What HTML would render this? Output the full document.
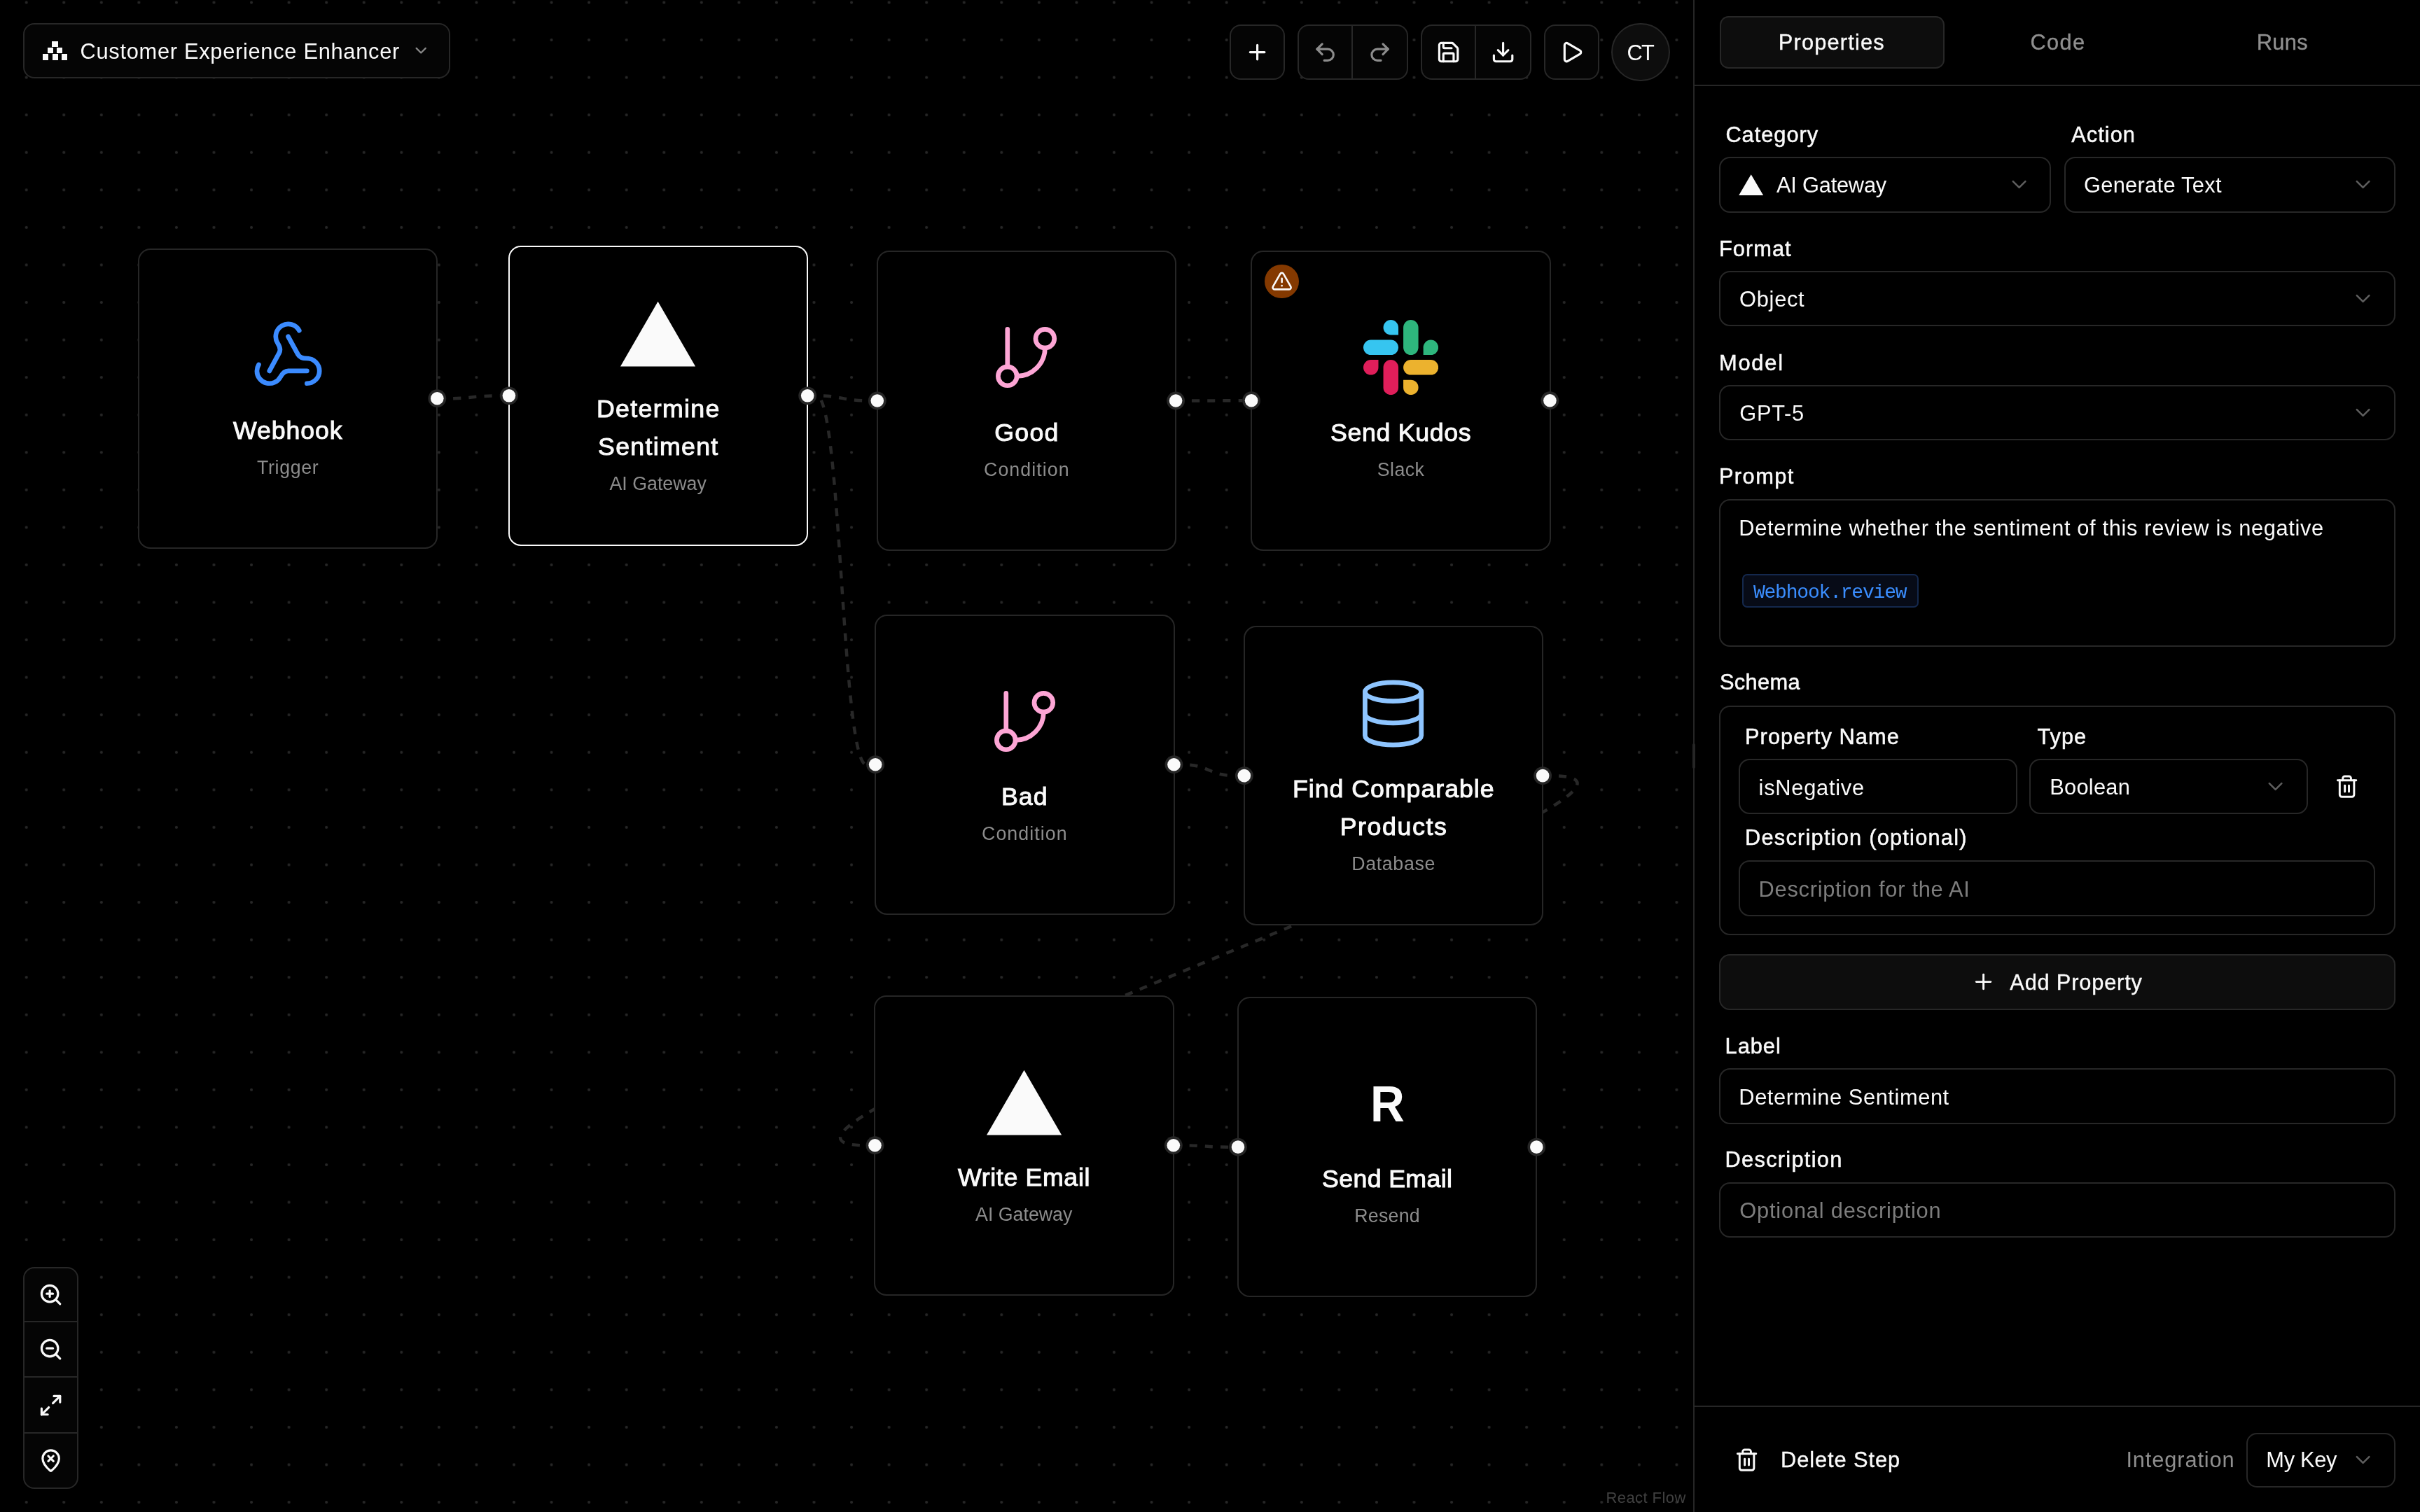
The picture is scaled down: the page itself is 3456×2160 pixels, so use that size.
<!DOCTYPE html>
<html lang="en"><head><meta charset="utf-8"><title>Customer Experience Enhancer</title><style>
html,body{margin:0;padding:0;background:#000;}
body{width:3456px;height:2160px;position:relative;overflow:hidden;font-family:'Liberation Sans', sans-serif;}
.node{position:absolute;box-sizing:border-box;width:428.51px;height:428.51px;border:2.23px solid #262626;border-radius:17.85px;background:#000;display:flex;flex-direction:column;align-items:center;justify-content:center;gap:26.78px;}
.nic{display:block;flex:none;position:relative;top:0.6px}
.tl{position:absolute;left:0;top:0;width:3456px;height:2160px;will-change:transform}
.ntx{display:flex;flex-direction:column;align-items:center;gap:8.93px;position:relative;top:2px;will-change:transform}
.nt{font-weight:normal;-webkit-text-stroke:1.0px #fafafa;font-size:35.71px;line-height:53.56px;color:#fafafa;white-space:nowrap;text-align:center}
.ns{font-size:26.78px;line-height:35.71px;color:#8c8c8c;white-space:nowrap;text-align:center}
.hd{position:absolute;box-sizing:border-box;width:26px;height:26px;border-radius:50%;background:#fafafa;border:3.8px solid #262626}
</style></head><body>
<div id="canvas" style="position:absolute;left:0;top:0;width:2418px;height:2160px;overflow:hidden;background-color:#000;background-image:radial-gradient(circle,#262626 0,#262626 1.5px,rgba(38,38,38,0) 2.5px);background-size:53.565px 53.565px;background-position:10.92px -23.28px;">
<svg style="position:absolute;left:0;top:0" width="2418" height="2160" fill="none" stroke="#282828" stroke-width="4.46" stroke-dasharray="11.16 11.16" stroke-dashoffset="12.5"><path d="M637.2,569.3 C675.6,569.3 675.6,565.3 714.0,565.3"/><path d="M1166.1,565.3 C1203.0,565.3 1203.0,572.5 1239.9,572.5"/><path d="M1166.1,565.3 C1201.7,565.3 1201.7,1092.3 1237.2,1092.3"/><path d="M1692.0,572.5 C1733.1,572.5 1733.1,572.3 1774.2,572.3"/><path d="M1689.4,1092.3 C1726.6,1092.3 1726.6,1108.2 1763.9,1108.2"/><path d="M2216.0,1108.2 C2508.2,1108.2 944.4,1636.3 1236.6,1636.3"/><path d="M1688.7,1636.3 C1721.9,1636.3 1721.9,1638.7 1755.1,1638.7"/></svg>
<div class="node" style="left:196.90px;top:355.00px;border-color:#262626"><svg class="nic" width="107.13" height="107.13" viewBox="0 0 24 24" fill="none" stroke="#3b8bff" stroke-width="1.5" stroke-linecap="round" stroke-linejoin="round"><path d="M18 16.98h-5.99c-1.1 0-1.95.94-2.48 1.9A4 4 0 0 1 2 17c.01-.7.2-1.4.57-2"/><path d="m6 17 3.13-5.78c.53-.97.1-2.18-.5-3.1a4 4 0 1 1 6.89-4.06"/><path d="m12 6 3.13 5.73C15.66 12.7 16.9 13 18 13a4 4 0 0 1 0 8"/></svg><div class="ntx"><div class="nt"><span class="ntl" style="letter-spacing:0.904px;margin-right:-0.904px">Webhook</span></div><div class="ns"><span class="nsl" style="letter-spacing:0.621px;margin-right:-0.621px">Trigger</span></div></div></div>
<div class="node" style="left:725.80px;top:351.05px;border-color:#fafafa"><svg class="nic" width="107.13" height="107.13" viewBox="0 0 76 76"><path d="M38 5.5 L76 71.3 L0 71.3 Z" fill="#fafafa"/></svg><div class="ntx"><div class="nt"><span class="ntl" style="letter-spacing:1.329px;margin-right:-1.329px">Determine</span><br><span class="ntl" style="letter-spacing:1.304px;margin-right:-1.304px">Sentiment</span></div><div class="ns"><span class="nsl" style="letter-spacing:0.015px;margin-right:-0.015px">AI Gateway</span></div></div></div>
<div class="node" style="left:1251.70px;top:358.25px;border-color:#262626"><svg class="nic" width="107.13" height="107.13" viewBox="0 0 24 24" fill="none" stroke="#fda5d5" stroke-width="1.5" stroke-linecap="round" stroke-linejoin="round"><line x1="6" x2="6" y1="3" y2="15"/><circle cx="18" cy="6" r="3"/><circle cx="6" cy="18" r="3"/><path d="M18 9a9 9 0 0 1-9 9"/></svg><div class="ntx"><div class="nt"><span class="ntl" style="letter-spacing:1.282px;margin-right:-1.282px">Good</span></div><div class="ns"><span class="nsl" style="letter-spacing:1.062px;margin-right:-1.062px">Condition</span></div></div></div>
<div class="node" style="left:1786.00px;top:358.00px;border-color:#262626"><svg class="nic" width="107.13" height="107.13" viewBox="0 0 107.70 107.70"><path d="M28.70,10.80 A10.80,10.80 0 0 1 39.50,0.00 A10.80,10.80 0 0 1 50.30,10.80 L50.30,21.60 L39.50,21.60 A10.80,10.80 0 0 1 28.70,10.80 Z" fill="#36C5F0" transform="rotate(0 39.50 10.80)"/><rect x="0.00" y="28.70" width="50.30" height="21.60" rx="10.80" fill="#36C5F0"/><rect x="57.40" y="0.00" width="21.60" height="50.30" rx="10.80" fill="#2EB67D"/><path d="M86.10,39.50 A10.80,10.80 0 0 1 96.90,28.70 A10.80,10.80 0 0 1 107.70,39.50 L107.70,50.30 L96.90,50.30 A10.80,10.80 0 0 1 86.10,39.50 Z" fill="#2EB67D" transform="rotate(90 96.90 39.50)"/><path d="M0.00,68.20 A10.80,10.80 0 0 1 10.80,57.40 A10.80,10.80 0 0 1 21.60,68.20 L21.60,79.00 L10.80,79.00 A10.80,10.80 0 0 1 0.00,68.20 Z" fill="#E01E5A" transform="rotate(270 10.80 68.20)"/><rect x="28.70" y="57.40" width="21.60" height="50.30" rx="10.80" fill="#E01E5A"/><rect x="57.40" y="57.40" width="50.30" height="21.60" rx="10.80" fill="#ECB22E"/><path d="M57.40,96.90 A10.80,10.80 0 0 1 68.20,86.10 A10.80,10.80 0 0 1 79.00,96.90 L79.00,107.70 L68.20,107.70 A10.80,10.80 0 0 1 57.40,96.90 Z" fill="#ECB22E" transform="rotate(180 68.20 96.90)"/></svg><div class="ntx"><div class="nt"><span class="ntl" style="letter-spacing:0.677px;margin-right:-0.677px">Send Kudos</span></div><div class="ns"><span class="nsl" style="letter-spacing:0.383px;margin-right:-0.383px">Slack</span></div></div></div>
<div class="node" style="left:1249.05px;top:878.00px;border-color:#262626"><svg class="nic" width="107.13" height="107.13" viewBox="0 0 24 24" fill="none" stroke="#fda5d5" stroke-width="1.5" stroke-linecap="round" stroke-linejoin="round"><line x1="6" x2="6" y1="3" y2="15"/><circle cx="18" cy="6" r="3"/><circle cx="6" cy="18" r="3"/><path d="M18 9a9 9 0 0 1-9 9"/></svg><div class="ntx"><div class="nt"><span class="ntl" style="letter-spacing:1.075px;margin-right:-1.075px">Bad</span></div><div class="ns"><span class="nsl" style="letter-spacing:1.062px;margin-right:-1.062px">Condition</span></div></div></div>
<div class="node" style="left:1775.70px;top:893.90px;border-color:#262626"><svg class="nic" width="107.13" height="107.13" viewBox="0 0 24 24" fill="none" stroke="#8ec5ff" stroke-width="1.5" stroke-linecap="round" stroke-linejoin="round"><ellipse cx="12" cy="5" rx="9" ry="3"/><path d="M3 5V19A9 3 0 0 0 21 19V5"/><path d="M3 12A9 3 0 0 0 21 12"/></svg><div class="ntx"><div class="nt"><span class="ntl" style="letter-spacing:0.979px;margin-right:-0.979px">Find Comparable</span><br><span class="ntl" style="letter-spacing:1.616px;margin-right:-1.616px">Products</span></div><div class="ns"><span class="nsl" style="letter-spacing:0.658px;margin-right:-0.658px">Database</span></div></div></div>
<div class="node" style="left:1248.40px;top:1422.00px;border-color:#262626"><svg class="nic" width="107.13" height="107.13" viewBox="0 0 76 76"><path d="M38 5.5 L76 71.3 L0 71.3 Z" fill="#fafafa"/></svg><div class="ntx"><div class="nt"><span class="ntl" style="letter-spacing:0.656px;margin-right:-0.656px">Write Email</span></div><div class="ns"><span class="nsl" style="letter-spacing:-0.007px;margin-right:0.007px">AI Gateway</span></div></div></div>
<div class="node" style="left:1766.90px;top:1424.40px;border-color:#262626"><div class="nic" style="width:107.13px;height:107.13px;position:relative"><span id="rs" style="position:absolute;left:0;right:0;text-align:center;top:17.6px;font:bold 72.8px/1 'Liberation Sans', sans-serif;color:#fafafa;transform:scaleX(0.93)">R</span></div><div class="ntx"><div class="nt"><span class="ntl" style="letter-spacing:0.370px;margin-right:-0.370px">Send Email</span></div><div class="ns"><span class="nsl" style="letter-spacing:0.246px;margin-right:-0.246px">Resend</span></div></div></div>
<div style="position:absolute;left:1806.4px;top:378.0px;width:48.4px;height:48.4px;border-radius:50%;background:#843900"></div>
<svg style="position:absolute;left:1814.68px;top:386.38px;" width="31.25" height="31.25" viewBox="0 0 24 24" fill="none" stroke="#fafafa" stroke-width="2" stroke-linecap="round" stroke-linejoin="round"><path d="m21.73 18-8-14a2 2 0 0 0-3.48 0l-8 14A2 2 0 0 0 4 21h16a2 2 0 0 0 1.73-3"/><path d="M12 9v4"/><path d="M12 17h.01"/></svg>
<svg style="position:absolute;left:0;top:0" width="2418" height="2160"><circle cx="624.31" cy="569.25" r="12.9" fill="#262626"/><circle cx="624.31" cy="569.25" r="9.3" fill="#fafafa"/><circle cx="726.90" cy="565.30" r="12.9" fill="#262626"/><circle cx="726.90" cy="565.30" r="9.3" fill="#fafafa"/><circle cx="1153.21" cy="565.30" r="12.9" fill="#262626"/><circle cx="1153.21" cy="565.30" r="9.3" fill="#fafafa"/><circle cx="1252.80" cy="572.50" r="12.9" fill="#262626"/><circle cx="1252.80" cy="572.50" r="9.3" fill="#fafafa"/><circle cx="1679.11" cy="572.50" r="12.9" fill="#262626"/><circle cx="1679.11" cy="572.50" r="9.3" fill="#fafafa"/><circle cx="1787.10" cy="572.25" r="12.9" fill="#262626"/><circle cx="1787.10" cy="572.25" r="9.3" fill="#fafafa"/><circle cx="2213.41" cy="572.25" r="12.9" fill="#262626"/><circle cx="2213.41" cy="572.25" r="9.3" fill="#fafafa"/><circle cx="1250.15" cy="1092.25" r="12.9" fill="#262626"/><circle cx="1250.15" cy="1092.25" r="9.3" fill="#fafafa"/><circle cx="1676.46" cy="1092.25" r="12.9" fill="#262626"/><circle cx="1676.46" cy="1092.25" r="9.3" fill="#fafafa"/><circle cx="1776.80" cy="1108.15" r="12.9" fill="#262626"/><circle cx="1776.80" cy="1108.15" r="9.3" fill="#fafafa"/><circle cx="2203.11" cy="1108.15" r="12.9" fill="#262626"/><circle cx="2203.11" cy="1108.15" r="9.3" fill="#fafafa"/><circle cx="1249.50" cy="1636.25" r="12.9" fill="#262626"/><circle cx="1249.50" cy="1636.25" r="9.3" fill="#fafafa"/><circle cx="1675.81" cy="1636.25" r="12.9" fill="#262626"/><circle cx="1675.81" cy="1636.25" r="9.3" fill="#fafafa"/><circle cx="1768.00" cy="1638.65" r="12.9" fill="#262626"/><circle cx="1768.00" cy="1638.65" r="9.3" fill="#fafafa"/><circle cx="2194.31" cy="1638.65" r="12.9" fill="#262626"/><circle cx="2194.31" cy="1638.65" r="9.3" fill="#fafafa"/></svg>
<div style="position:absolute;left:32.90px;top:32.90px;width:610.20px;height:79.10px;box-sizing:border-box;border:2px solid #272727;border-radius:16px;background:#050505;"></div>
<div style="position:absolute;left:74.4px;top:58.9px;width:8.3px;height:8.3px;background:#fafafa"></div>
<div style="position:absolute;left:67.8px;top:68.0px;width:8.3px;height:8.3px;background:#fafafa"></div>
<div style="position:absolute;left:81.2px;top:68.0px;width:8.3px;height:8.3px;background:#fafafa"></div>
<div style="position:absolute;left:61.1px;top:77.4px;width:8.3px;height:8.3px;background:#fafafa"></div>
<div style="position:absolute;left:74.7px;top:77.4px;width:8.3px;height:8.3px;background:#fafafa"></div>
<div style="position:absolute;left:88.1px;top:77.4px;width:8.3px;height:8.3px;background:#fafafa"></div>
<svg style="position:absolute;left:587.80px;top:58.70px;" width="26.40" height="26.40" viewBox="0 0 24 24" fill="none" stroke="#8a8a8a" stroke-width="2" stroke-linecap="round" stroke-linejoin="round"><path d="m6 9 6 6 6-6"/></svg>
<div style="position:absolute;left:1755.90px;top:34.90px;width:79.10px;height:79.10px;box-sizing:border-box;border:2px solid #272727;border-radius:16px;background:#050505;"></div>
<svg style="position:absolute;left:1778.00px;top:57.10px;" width="35.20" height="35.20" viewBox="0 0 24 24" fill="none" stroke="#fafafa" stroke-width="2.15" stroke-linecap="round" stroke-linejoin="round"><path d="M5 12h14"/><path d="M12 5v14"/></svg>
<div style="position:absolute;left:1852.60px;top:34.90px;width:158.40px;height:79.10px;box-sizing:border-box;border:2px solid #272727;border-radius:16px;background:#050505;"></div>
<div style="position:absolute;left:1929.7px;top:36.9px;width:2.1px;height:75.1px;background:#272727"></div>
<svg style="position:absolute;left:1874.90px;top:57.10px;" width="35.20" height="35.20" viewBox="0 0 24 24" fill="none" stroke="#8c8c8c" stroke-width="2.15" stroke-linecap="round" stroke-linejoin="round"><path d="M9 14 4 9l5-5"/><path d="M4 9h10.5a5.5 5.5 0 0 1 5.5 5.5a5.5 5.5 0 0 1-5.5 5.5H11"/></svg>
<svg style="position:absolute;left:1953.20px;top:57.10px;" width="35.20" height="35.20" viewBox="0 0 24 24" fill="none" stroke="#8c8c8c" stroke-width="2.15" stroke-linecap="round" stroke-linejoin="round"><path d="m15 14 5-5-5-5"/><path d="M20 9H9.5A5.5 5.5 0 0 0 4 14.5A5.5 5.5 0 0 0 9.5 20H13"/></svg>
<div style="position:absolute;left:2028.60px;top:34.90px;width:158.40px;height:79.10px;box-sizing:border-box;border:2px solid #272727;border-radius:16px;background:#050505;"></div>
<div style="position:absolute;left:2105.7px;top:36.9px;width:2.1px;height:75.1px;background:#272727"></div>
<svg style="position:absolute;left:2051.00px;top:57.10px;" width="35.20" height="35.20" viewBox="0 0 24 24" fill="none" stroke="#fafafa" stroke-width="2.15" stroke-linecap="round" stroke-linejoin="round"><path d="M15.2 3a2 2 0 0 1 1.4.6l3.8 3.8a2 2 0 0 1 .6 1.4V19a2 2 0 0 1-2 2H5a2 2 0 0 1-2-2V5a2 2 0 0 1 2-2z"/><path d="M17 21v-7a1 1 0 0 0-1-1H8a1 1 0 0 0-1 1v7"/><path d="M7 3v4a1 1 0 0 0 1 1h7"/></svg>
<svg style="position:absolute;left:2129.00px;top:57.10px;" width="35.20" height="35.20" viewBox="0 0 24 24" fill="none" stroke="#fafafa" stroke-width="2.15" stroke-linecap="round" stroke-linejoin="round"><path d="M12 15V3"/><path d="M21 15v4a2 2 0 0 1-2 2H5a2 2 0 0 1-2-2v-4"/><path d="m7 10 5 5 5-5"/></svg>
<div style="position:absolute;left:2204.60px;top:34.90px;width:79.20px;height:79.10px;box-sizing:border-box;border:2px solid #272727;border-radius:16px;background:#050505;"></div>
<svg style="position:absolute;left:2226.60px;top:57.10px;" width="35.20" height="35.20" viewBox="0 0 24 24" fill="none" stroke="#fafafa" stroke-width="2.15" stroke-linecap="round" stroke-linejoin="round"><path d="M5 5a2 2 0 0 1 3.008-1.728l11.997 6.998a2 2 0 0 1 .003 3.458l-12 7A2 2 0 0 1 5 19z"/></svg>
<div style="position:absolute;left:2301.30px;top:33.00px;width:83.40px;height:83.40px;box-sizing:border-box;border:2px solid #272727;border-radius:42px;background:#0d0d0d;"></div>
<div style="position:absolute;left:32.90px;top:1809.80px;width:79.20px;height:317.20px;box-sizing:border-box;border:2px solid #272727;border-radius:16px;background:#050505;"></div>
<div style="position:absolute;left:34.9px;top:1887px;width:75.2px;height:2px;background:#272727"></div>
<div style="position:absolute;left:34.9px;top:1966.3px;width:75.2px;height:2px;background:#272727"></div>
<div style="position:absolute;left:34.9px;top:2045.5px;width:75.2px;height:2px;background:#272727"></div>
<svg style="position:absolute;left:55.00px;top:1832.00px;" width="35.20" height="35.20" viewBox="0 0 24 24" fill="none" stroke="#fafafa" stroke-width="2.15" stroke-linecap="round" stroke-linejoin="round"><circle cx="11" cy="11" r="8"/><line x1="21" x2="16.65" y1="21" y2="16.65"/><line x1="11" x2="11" y1="8" y2="14"/><line x1="8" x2="14" y1="11" y2="11"/></svg>
<svg style="position:absolute;left:55.00px;top:1909.90px;" width="35.20" height="35.20" viewBox="0 0 24 24" fill="none" stroke="#fafafa" stroke-width="2.15" stroke-linecap="round" stroke-linejoin="round"><circle cx="11" cy="11" r="8"/><line x1="21" x2="16.65" y1="21" y2="16.65"/><line x1="8" x2="14" y1="11" y2="11"/></svg>
<svg style="position:absolute;left:55.00px;top:1989.80px;" width="35.20" height="35.20" viewBox="0 0 24 24" fill="none" stroke="#fafafa" stroke-width="2.15" stroke-linecap="round" stroke-linejoin="round"><path d="M15 3h6v6"/><path d="m21 3-7 7"/><path d="m3 21 7-7"/><path d="M9 21H3v-6"/></svg>
<svg style="position:absolute;left:55.00px;top:2068.90px;" width="35.20" height="35.20" viewBox="0 0 24 24" fill="none" stroke="#fafafa" stroke-width="2.15" stroke-linecap="round" stroke-linejoin="round"><path d="M20 10c0 4.993-5.539 10.193-7.399 11.799a1 1 0 0 1-1.202 0C9.539 20.193 4 14.993 4 10a8 8 0 0 1 16 0"/><path d="m14.5 7.5-5 5"/><path d="m9.5 7.5 5 5"/></svg>
</div>
<div style="position:absolute;left:2418px;top:0;width:1038px;height:2160px;background:#000;border-left:2px solid #262626;box-sizing:border-box"></div>
<div style="position:absolute;left:2420px;top:121.2px;width:1036px;height:2px;background:#262626"></div>
<div style="position:absolute;left:2420px;top:2007.6px;width:1036px;height:2px;background:#262626"></div>
<div style="position:absolute;left:2416.9px;top:1062.4px;width:4.2px;height:35.2px;border-radius:2px;background:#262626"></div>
<div style="position:absolute;left:2455.50px;top:23.10px;width:321.40px;height:74.80px;box-sizing:border-box;border:2px solid #272727;border-radius:12.5px;background:#0d0d0d;"></div>
<div style="position:absolute;left:2455.20px;top:223.90px;width:473.60px;height:80.10px;box-sizing:border-box;border:2px solid #272727;border-radius:15.5px;background:transparent;"></div>
<svg style="position:absolute;left:2483px;top:248.6px" width="35.4" height="30.6" viewBox="0 0 76 65"><path d="M38 0 L76 65 L0 65 Z" fill="#fafafa"/></svg>
<svg style="position:absolute;left:2866.10px;top:246.30px;" width="35.20" height="35.20" viewBox="0 0 24 24" fill="none" stroke="#5e5e5e" stroke-width="1.7" stroke-linecap="round" stroke-linejoin="round"><path d="m6 9 6 6 6-6"/></svg>
<div style="position:absolute;left:2947.60px;top:223.90px;width:473.30px;height:80.10px;box-sizing:border-box;border:2px solid #272727;border-radius:15.5px;background:transparent;"></div>
<svg style="position:absolute;left:3357.10px;top:246.10px;" width="35.20" height="35.20" viewBox="0 0 24 24" fill="none" stroke="#5e5e5e" stroke-width="1.7" stroke-linecap="round" stroke-linejoin="round"><path d="m6 9 6 6 6-6"/></svg>
<div style="position:absolute;left:2455.20px;top:387.00px;width:965.70px;height:79.20px;box-sizing:border-box;border:2px solid #272727;border-radius:15.5px;background:transparent;"></div>
<svg style="position:absolute;left:3357.00px;top:409.10px;" width="35.20" height="35.20" viewBox="0 0 24 24" fill="none" stroke="#5e5e5e" stroke-width="1.7" stroke-linecap="round" stroke-linejoin="round"><path d="m6 9 6 6 6-6"/></svg>
<div style="position:absolute;left:2455.20px;top:550.00px;width:965.70px;height:79.20px;box-sizing:border-box;border:2px solid #272727;border-radius:15.5px;background:transparent;"></div>
<svg style="position:absolute;left:3357.00px;top:572.00px;" width="35.20" height="35.20" viewBox="0 0 24 24" fill="none" stroke="#5e5e5e" stroke-width="1.7" stroke-linecap="round" stroke-linejoin="round"><path d="m6 9 6 6 6-6"/></svg>
<div style="position:absolute;left:2455.20px;top:713.40px;width:965.70px;height:210.60px;box-sizing:border-box;border:2px solid #272727;border-radius:15.5px;background:transparent;"></div>
<div style="position:absolute;left:2488.30px;top:820.00px;width:251.70px;height:47.70px;box-sizing:border-box;border:2px solid #14284d;border-radius:7px;background:#070b17;"></div>
<div style="position:absolute;left:2455.20px;top:1007.60px;width:965.70px;height:328.60px;box-sizing:border-box;border:2px solid #272727;border-radius:15.5px;background:transparent;"></div>
<div style="position:absolute;left:2483.00px;top:1083.90px;width:397.60px;height:79.20px;box-sizing:border-box;border:2px solid #272727;border-radius:15.5px;background:transparent;"></div>
<div style="position:absolute;left:2898.30px;top:1083.90px;width:397.40px;height:79.20px;box-sizing:border-box;border:2px solid #272727;border-radius:15.5px;background:transparent;"></div>
<svg style="position:absolute;left:3231.50px;top:1106.10px;" width="35.20" height="35.20" viewBox="0 0 24 24" fill="none" stroke="#5e5e5e" stroke-width="1.7" stroke-linecap="round" stroke-linejoin="round"><path d="m6 9 6 6 6-6"/></svg>
<svg style="position:absolute;left:3334.40px;top:1105.80px;" width="35.20" height="35.20" viewBox="0 0 24 24" fill="none" stroke="#fafafa" stroke-width="2" stroke-linecap="round" stroke-linejoin="round"><path d="M10 11v6"/><path d="M14 11v6"/><path d="M19 6v14a2 2 0 0 1-2 2H7a2 2 0 0 1-2-2V6"/><path d="M3 6h18"/><path d="M8 6V4a2 2 0 0 1 2-2h4a2 2 0 0 1 2 2v2"/></svg>
<div style="position:absolute;left:2483.00px;top:1228.60px;width:908.60px;height:80.40px;box-sizing:border-box;border:2px solid #272727;border-radius:15.5px;background:transparent;"></div>
<div style="position:absolute;left:2455.20px;top:1363.00px;width:965.70px;height:80.00px;box-sizing:border-box;border:2px solid #272727;border-radius:15.5px;background:#0d0d0d;"></div>
<svg style="position:absolute;left:2815.20px;top:1385.10px;" width="35.20" height="35.20" viewBox="0 0 24 24" fill="none" stroke="#fafafa" stroke-width="2" stroke-linecap="round" stroke-linejoin="round"><path d="M5 12h14"/><path d="M12 5v14"/></svg>
<div style="position:absolute;left:2455.20px;top:1526.40px;width:965.70px;height:79.20px;box-sizing:border-box;border:2px solid #272727;border-radius:15.5px;background:transparent;"></div>
<div style="position:absolute;left:2455.20px;top:1689.20px;width:965.70px;height:79.20px;box-sizing:border-box;border:2px solid #272727;border-radius:15.5px;background:transparent;"></div>
<svg style="position:absolute;left:2476.90px;top:2068.20px;" width="35.20" height="35.20" viewBox="0 0 24 24" fill="none" stroke="#fafafa" stroke-width="2" stroke-linecap="round" stroke-linejoin="round"><path d="M10 11v6"/><path d="M14 11v6"/><path d="M19 6v14a2 2 0 0 1-2 2H7a2 2 0 0 1-2-2V6"/><path d="M3 6h18"/><path d="M8 6V4a2 2 0 0 1 2-2h4a2 2 0 0 1 2 2v2"/></svg>
<div style="position:absolute;left:3208.40px;top:2046.50px;width:212.20px;height:78.00px;box-sizing:border-box;border:2px solid #272727;border-radius:15px;background:transparent;"></div>
<svg style="position:absolute;left:3356.80px;top:2068.20px;" width="35.20" height="35.20" viewBox="0 0 24 24" fill="none" stroke="#5e5e5e" stroke-width="1.7" stroke-linecap="round" stroke-linejoin="round"><path d="m6 9 6 6 6-6"/></svg>
<div class="tl">
<div style="position:absolute;white-space:pre;left:114.50px;top:56.02px;font-family:'Liberation Sans', sans-serif;font-size:30.8px;line-height:1.2;font-weight:normal;color:#fafafa;letter-spacing:0.713px;">Customer Experience Enhancer</div>
<div style="position:absolute;white-space:pre;left:2323.60px;top:58.02px;font-family:'Liberation Sans', sans-serif;font-size:30.8px;line-height:1.2;font-weight:normal;color:#fafafa;letter-spacing:-1.841px;">CT</div>
<div style="position:absolute;white-space:pre;left:2293.50px;top:2127.40px;font-family:'Liberation Sans', sans-serif;font-size:22px;line-height:1.2;font-weight:normal;color:#404040;letter-spacing:0.417px;">React Flow</div>
<div style="position:absolute;white-space:pre;left:2539.80px;top:43.12px;font-family:'Liberation Sans', sans-serif;font-size:30.8px;line-height:1.2;font-weight:normal;color:#fafafa;letter-spacing:1.160px;-webkit-text-stroke:0.35px #fafafa;">Properties</div>
<div style="position:absolute;white-space:pre;left:2899.45px;top:43.12px;font-family:'Liberation Sans', sans-serif;font-size:30.8px;line-height:1.2;font-weight:normal;color:#8f8f8f;letter-spacing:1.335px;-webkit-text-stroke:0.35px #8f8f8f;">Code</div>
<div style="position:absolute;white-space:pre;left:3222.65px;top:43.12px;font-family:'Liberation Sans', sans-serif;font-size:30.8px;line-height:1.2;font-weight:normal;color:#8f8f8f;letter-spacing:0.401px;-webkit-text-stroke:0.35px #8f8f8f;">Runs</div>
<div style="position:absolute;white-space:pre;left:2464.40px;top:175.02px;font-family:'Liberation Sans', sans-serif;font-size:30.8px;line-height:1.2;font-weight:normal;color:#fafafa;letter-spacing:0.962px;-webkit-text-stroke:0.5px #fafafa;">Category</div>
<div style="position:absolute;white-space:pre;left:2958.20px;top:174.62px;font-family:'Liberation Sans', sans-serif;font-size:30.8px;line-height:1.2;font-weight:normal;color:#fafafa;letter-spacing:1.027px;-webkit-text-stroke:0.5px #fafafa;">Action</div>
<div style="position:absolute;white-space:pre;left:2537.00px;top:247.22px;font-family:'Liberation Sans', sans-serif;font-size:30.8px;line-height:1.2;font-weight:normal;color:#fafafa;letter-spacing:-0.221px;">AI Gateway</div>
<div style="position:absolute;white-space:pre;left:2976.00px;top:247.32px;font-family:'Liberation Sans', sans-serif;font-size:30.8px;line-height:1.2;font-weight:normal;color:#fafafa;letter-spacing:0.301px;">Generate Text</div>
<div style="position:absolute;white-space:pre;left:2454.90px;top:338.02px;font-family:'Liberation Sans', sans-serif;font-size:30.8px;line-height:1.2;font-weight:normal;color:#fafafa;letter-spacing:1.045px;-webkit-text-stroke:0.5px #fafafa;">Format</div>
<div style="position:absolute;white-space:pre;left:2484.10px;top:409.82px;font-family:'Liberation Sans', sans-serif;font-size:30.8px;line-height:1.2;font-weight:normal;color:#fafafa;letter-spacing:0.710px;">Object</div>
<div style="position:absolute;white-space:pre;left:2454.90px;top:500.72px;font-family:'Liberation Sans', sans-serif;font-size:30.8px;line-height:1.2;font-weight:normal;color:#fafafa;letter-spacing:1.841px;-webkit-text-stroke:0.5px #fafafa;">Model</div>
<div style="position:absolute;white-space:pre;left:2484.30px;top:572.62px;font-family:'Liberation Sans', sans-serif;font-size:30.8px;line-height:1.2;font-weight:normal;color:#fafafa;letter-spacing:0.684px;">GPT-5</div>
<div style="position:absolute;white-space:pre;left:2454.90px;top:662.72px;font-family:'Liberation Sans', sans-serif;font-size:30.8px;line-height:1.2;font-weight:normal;color:#fafafa;letter-spacing:1.439px;-webkit-text-stroke:0.5px #fafafa;">Prompt</div>
<div style="position:absolute;white-space:pre;left:2483.30px;top:736.92px;font-family:'Liberation Sans', sans-serif;font-size:30.8px;line-height:1.2;font-weight:normal;color:#fafafa;letter-spacing:0.652px;">Determine whether the sentiment of this review is negative</div>
<div style="position:absolute;white-space:pre;left:2503.90px;top:830.30px;font-family:'Liberation Mono', monospace;font-size:28px;line-height:1.2;font-weight:normal;color:#3b8eff;letter-spacing:-1.195px;">Webhook.review</div>
<div style="position:absolute;white-space:pre;left:2455.90px;top:957.02px;font-family:'Liberation Sans', sans-serif;font-size:30.8px;line-height:1.2;font-weight:normal;color:#fafafa;letter-spacing:0.330px;-webkit-text-stroke:0.5px #fafafa;">Schema</div>
<div style="position:absolute;white-space:pre;left:2492.00px;top:1035.12px;font-family:'Liberation Sans', sans-serif;font-size:30.8px;line-height:1.2;font-weight:normal;color:#fafafa;letter-spacing:1.061px;-webkit-text-stroke:0.5px #fafafa;">Property Name</div>
<div style="position:absolute;white-space:pre;left:2909.60px;top:1035.12px;font-family:'Liberation Sans', sans-serif;font-size:30.8px;line-height:1.2;font-weight:normal;color:#fafafa;letter-spacing:0.887px;-webkit-text-stroke:0.5px #fafafa;">Type</div>
<div style="position:absolute;white-space:pre;left:2511.60px;top:1107.62px;font-family:'Liberation Sans', sans-serif;font-size:30.8px;line-height:1.2;font-weight:normal;color:#fafafa;letter-spacing:0.738px;">isNegative</div>
<div style="position:absolute;white-space:pre;left:2927.20px;top:1107.42px;font-family:'Liberation Sans', sans-serif;font-size:30.8px;line-height:1.2;font-weight:normal;color:#fafafa;letter-spacing:0.268px;">Boolean</div>
<div style="position:absolute;white-space:pre;left:2492.00px;top:1179.22px;font-family:'Liberation Sans', sans-serif;font-size:30.8px;line-height:1.2;font-weight:normal;color:#fafafa;letter-spacing:1.213px;-webkit-text-stroke:0.5px #fafafa;">Description (optional)</div>
<div style="position:absolute;white-space:pre;left:2511.60px;top:1252.92px;font-family:'Liberation Sans', sans-serif;font-size:30.8px;line-height:1.2;font-weight:normal;color:#7d7d7d;letter-spacing:0.733px;">Description for the AI</div>
<div style="position:absolute;white-space:pre;left:2870.30px;top:1385.72px;font-family:'Liberation Sans', sans-serif;font-size:30.8px;line-height:1.2;font-weight:normal;color:#fafafa;letter-spacing:0.805px;-webkit-text-stroke:0.35px #fafafa;">Add Property</div>
<div style="position:absolute;white-space:pre;left:2463.60px;top:1476.92px;font-family:'Liberation Sans', sans-serif;font-size:30.8px;line-height:1.2;font-weight:normal;color:#fafafa;letter-spacing:0.947px;-webkit-text-stroke:0.5px #fafafa;">Label</div>
<div style="position:absolute;white-space:pre;left:2483.30px;top:1550.22px;font-family:'Liberation Sans', sans-serif;font-size:30.8px;line-height:1.2;font-weight:normal;color:#fafafa;letter-spacing:0.588px;">Determine Sentiment</div>
<div style="position:absolute;white-space:pre;left:2463.60px;top:1639.22px;font-family:'Liberation Sans', sans-serif;font-size:30.8px;line-height:1.2;font-weight:normal;color:#fafafa;letter-spacing:1.268px;-webkit-text-stroke:0.5px #fafafa;">Description</div>
<div style="position:absolute;white-space:pre;left:2484.30px;top:1711.92px;font-family:'Liberation Sans', sans-serif;font-size:30.8px;line-height:1.2;font-weight:normal;color:#7d7d7d;letter-spacing:0.796px;">Optional description</div>
<div style="position:absolute;white-space:pre;left:2543.00px;top:2068.02px;font-family:'Liberation Sans', sans-serif;font-size:30.8px;line-height:1.2;font-weight:normal;color:#fafafa;letter-spacing:0.920px;-webkit-text-stroke:0.35px #fafafa;">Delete Step</div>
<div style="position:absolute;white-space:pre;left:3036.40px;top:2068.02px;font-family:'Liberation Sans', sans-serif;font-size:30.8px;line-height:1.2;font-weight:normal;color:#8f8f8f;letter-spacing:0.879px;">Integration</div>
<div style="position:absolute;white-space:pre;left:3236.30px;top:2068.02px;font-family:'Liberation Sans', sans-serif;font-size:30.8px;line-height:1.2;font-weight:normal;color:#fafafa;letter-spacing:-0.316px;">My Key</div>
</div>
</body></html>
